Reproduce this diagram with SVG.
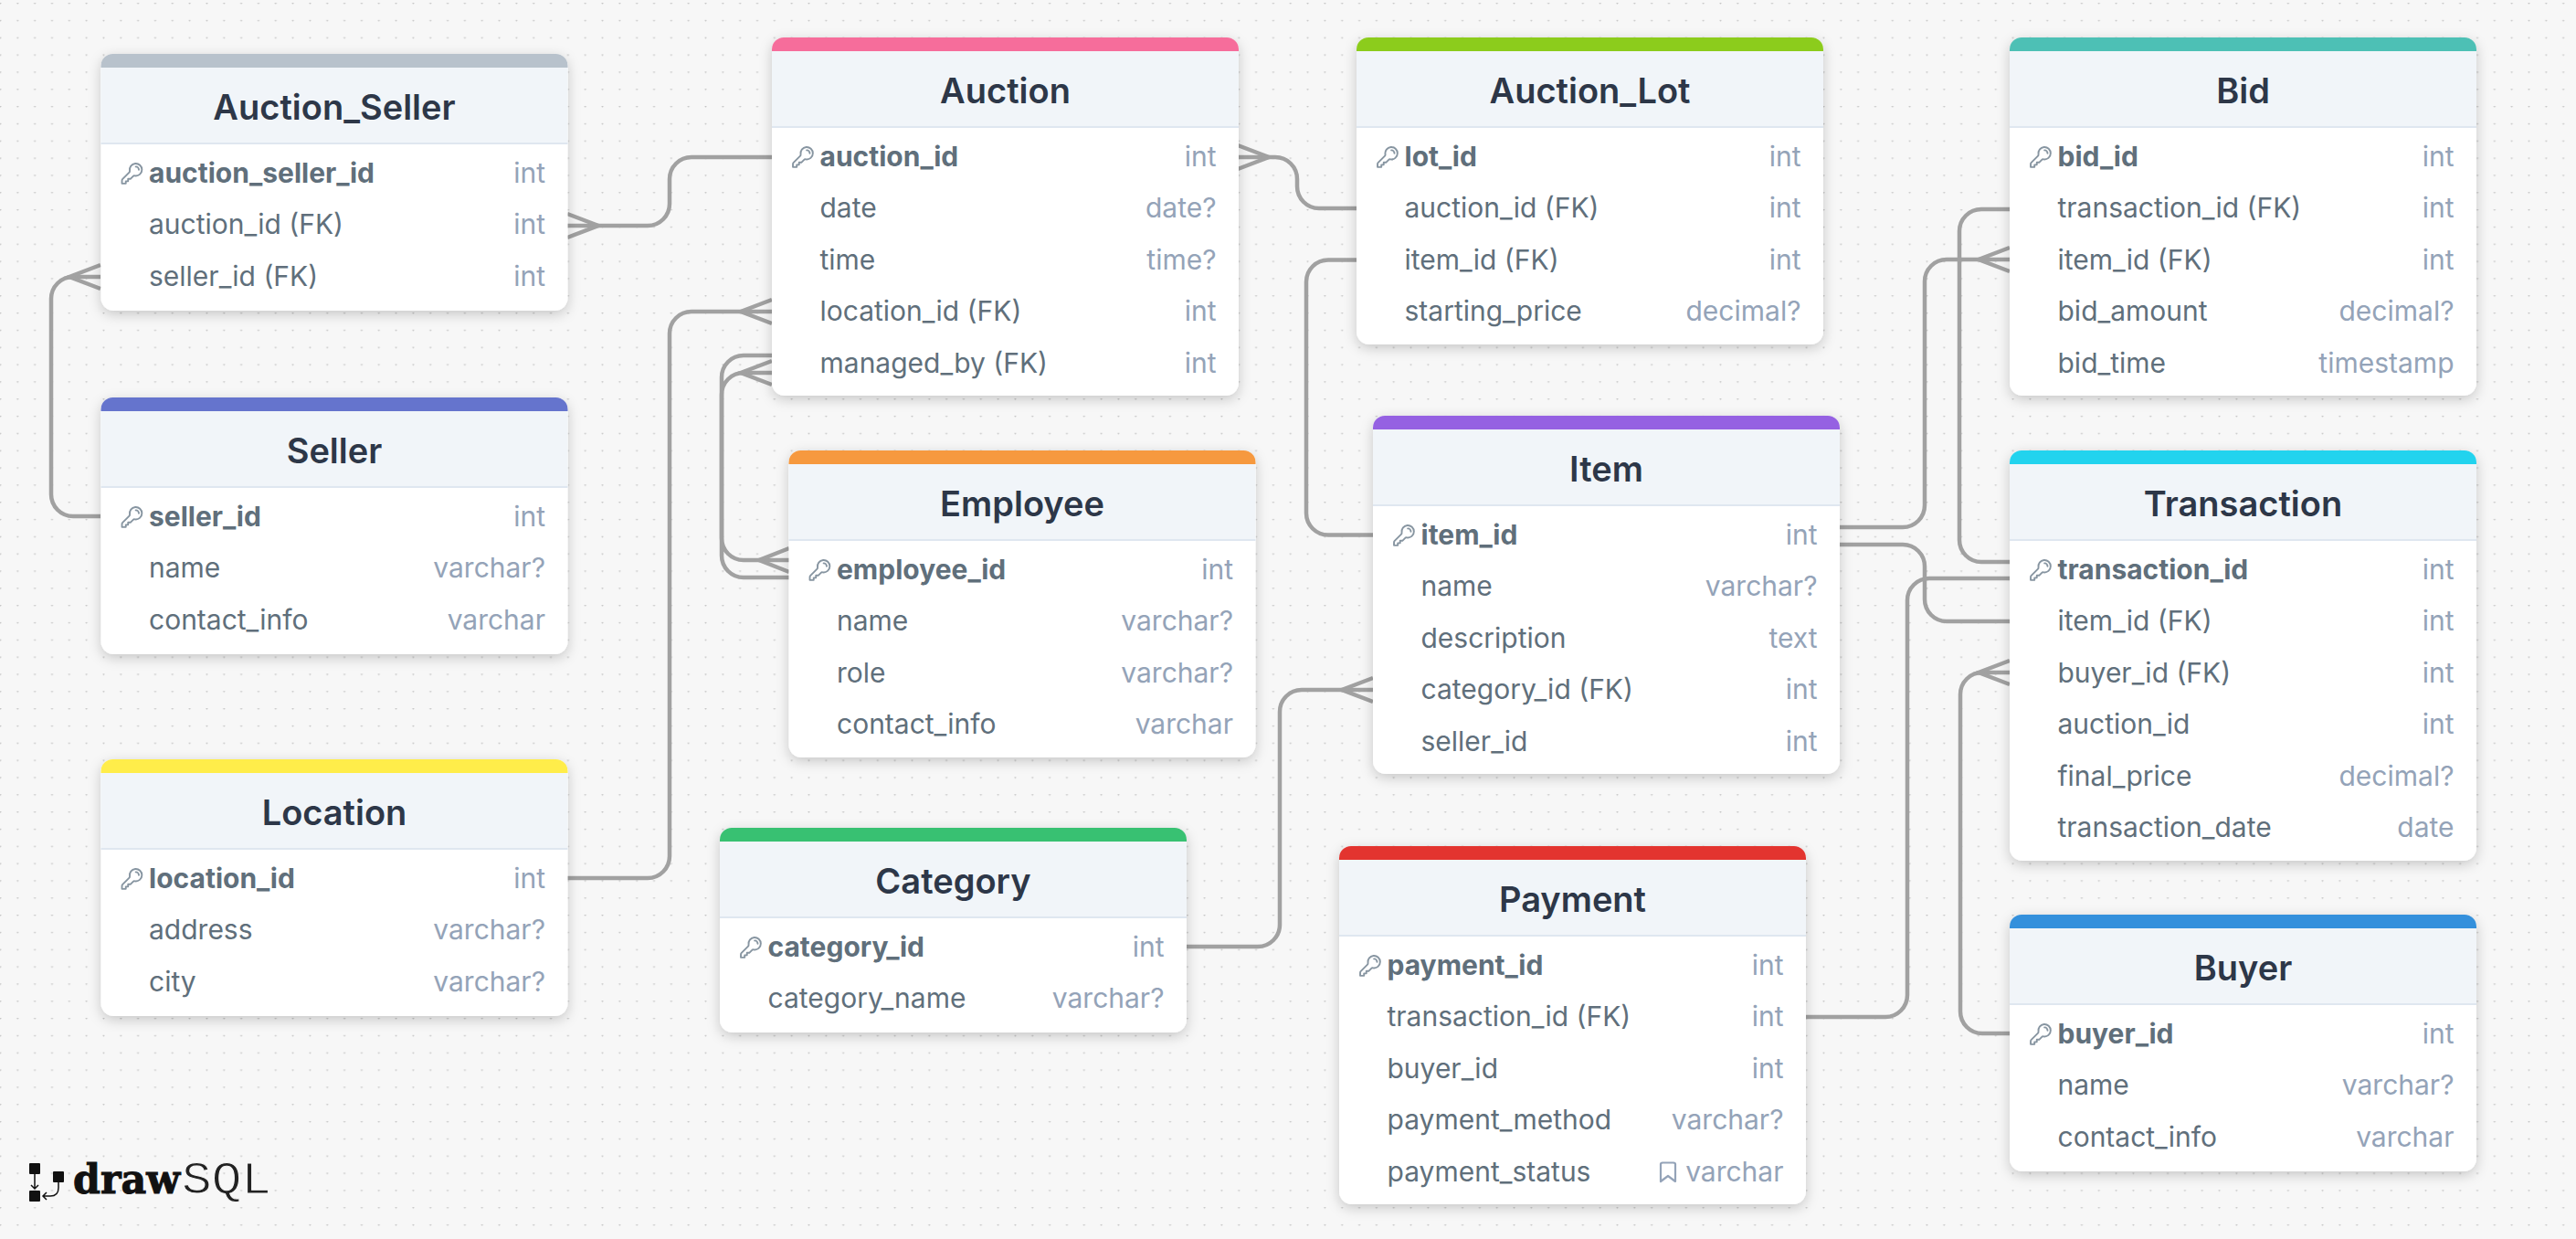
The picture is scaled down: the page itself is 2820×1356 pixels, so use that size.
<svg xmlns="http://www.w3.org/2000/svg" width="2820" height="1356" viewBox="0 0 2820 1356">
<style>
text{font-family:Inter,"Noto Sans",sans-serif}
.ti{font-size:38px;font-weight:600;fill:#2d3748;text-anchor:middle;transform:translateY(.5px)}
.n,.p,.t{font-size:30px;transform:translate(-.5px,-.2px)}
.n{fill:#606f7b}
.p{font-weight:700;fill:#606f7b}
.t{fill:#94a3b8;text-anchor:end}
.body{fill:#fff;filter:url(#sh)}
.hd{fill:#f1f5f9}
.ln{stroke:#dfe7f0;stroke-width:2}
.c{fill:none;stroke:#a1a1a1;stroke-width:4.500}
.ic{fill:none;stroke:#8795a1;stroke-width:1.700;stroke-linejoin:round;stroke-linecap:round}
</style>
<defs>
<pattern id="dots" width="18.83" height="18.83" patternUnits="userSpaceOnUse" y="3">
<circle cx="0.5" cy="0.5" r="1" fill="#c4c4c4"/><circle cx="19.33" cy="0.5" r="1" fill="#c4c4c4"/>
</pattern>
<filter id="sh" x="-10%" y="-10%" width="120%" height="125%"><feDropShadow dx="0" dy="4" stdDeviation="7" flood-color="#000" flood-opacity="0.2"/></filter>
<path id="band" d="M0 15V13A13 13 0 0 1 13 0H498A13 13 0 0 1 511 13V15Z"/>
<path id="key" class="ic" transform="translate(20.5,117.5) scale(1.12)" d="M15.75 5.25a3 3 0 013 3m3 0a6 6 0 01-7.029 5.912c-.563-.097-1.159.026-1.563.43L10.5 17.25H8.25v2.25H6v2.25H2.25v-2.818c0-.597.237-1.17.659-1.591l6.499-6.499c.404-.404.527-1 .43-1.563A6 6 0 1121.75 8.25z"/>
</defs>
<rect width="2820" height="1356" fill="#f7f7f7"/>
<rect width="2820" height="1356" fill="url(#dots)"/>

<g id="connectors">
<path class="c" d="M621 247H709A24 24 0 0 0 733 223V196A24 24 0 0 1 757 172H845"/>
<path class="c" d="M621 234L655 247L621 260"/>
<path class="c" d="M110 303H80A24 24 0 0 0 56 327V541A24 24 0 0 0 80 565H110"/>
<path class="c" d="M110 290L76 303L110 316"/>
<path class="c" d="M621 961H709A24 24 0 0 0 733 937V365A24 24 0 0 1 757 341H845"/>
<path class="c" d="M845 328L811 341L845 354"/>
<path class="c" d="M845 389H814A24 24 0 0 0 790 413V608A24 24 0 0 0 814 632H864"/>
<path class="c" d="M845 408H814A24 24 0 0 0 790 432V589A24 24 0 0 0 814 613H864"/>
<path class="c" d="M845 395L811 408L845 421"/>
<path class="c" d="M864 600L831 613L864 626"/>
<path class="c" d="M1355 172H1396A24 24 0 0 1 1420 196V204A24 24 0 0 0 1444 228H1485"/>
<path class="c" d="M1355 159L1389 172L1355 185"/>
<path class="c" d="M1485 284.500H1454A24 24 0 0 0 1430 308.500V561.500A24 24 0 0 0 1454 585.500H1503"/>
<path class="c" d="M1298 1036H1377A24 24 0 0 0 1401 1012V779A24 24 0 0 1 1425 755H1503"/>
<path class="c" d="M1503 742L1469 755L1503 768"/>
<path class="c" d="M2014 577H2083A24 24 0 0 0 2107 553V308A24 24 0 0 1 2131 284H2200"/>
<path class="c" d="M2200 271L2166 284L2200 297"/>
<path class="c" d="M2200 229H2169A24 24 0 0 0 2145 253V591A24 24 0 0 0 2169 615H2200"/>
<path class="c" d="M2014 596H2083A24 24 0 0 1 2107 620V656A24 24 0 0 0 2131 680H2200"/>
<path class="c" d="M1977 1113H2064A24 24 0 0 0 2088 1089V657A24 24 0 0 1 2112 633H2200"/>
<path class="c" d="M2200 1131H2170A24 24 0 0 1 2146 1107V760A24 24 0 0 1 2170 736H2200"/>
<path class="c" d="M2200 723L2166 736L2200 749"/>
</g>

<g id="auction_seller" transform="translate(110.5,59)">
<rect class="body" width="511" height="281" rx="14"/><rect class="hd" y="14" width="511" height="84"/><use href="#band" fill="#b8c2cc"/><line class="ln" x2="511" y1="98" y2="98"/>
<text class="ti" x="255.500" y="71">Auction_Seller</text>
<use href="#key"/><text class="p" x="53" y="141">auction_seller_id</text><text class="t" x="487" y="141">int</text>
<text class="n" x="53" y="197.500">auction_id (FK)</text><text class="t" x="487" y="197.500">int</text>
<text class="n" x="53" y="254">seller_id (FK)</text><text class="t" x="487" y="254">int</text>
</g>
<g id="seller" transform="translate(110.5,435)">
<rect class="body" width="511" height="281" rx="14"/><rect class="hd" y="14" width="511" height="84"/><use href="#band" fill="#6574cd"/><line class="ln" x2="511" y1="98" y2="98"/>
<text class="ti" x="255.500" y="71">Seller</text>
<use href="#key"/><text class="p" x="53" y="141">seller_id</text><text class="t" x="487" y="141">int</text>
<text class="n" x="53" y="197.500">name</text><text class="t" x="487" y="197.500">varchar?</text>
<text class="n" x="53" y="254">contact_info</text><text class="t" x="487" y="254">varchar</text>
</g>
<g id="location" transform="translate(110.5,831)">
<rect class="body" width="511" height="281" rx="14"/><rect class="hd" y="14" width="511" height="84"/><use href="#band" fill="#ffed4a"/><line class="ln" x2="511" y1="98" y2="98"/>
<text class="ti" x="255.500" y="71">Location</text>
<use href="#key"/><text class="p" x="53" y="141">location_id</text><text class="t" x="487" y="141">int</text>
<text class="n" x="53" y="197.500">address</text><text class="t" x="487" y="197.500">varchar?</text>
<text class="n" x="53" y="254">city</text><text class="t" x="487" y="254">varchar?</text>
</g>
<g id="auction" transform="translate(845,41)">
<rect class="body" width="511" height="392" rx="14"/><rect class="hd" y="14" width="511" height="84"/><use href="#band" fill="#f66d9b"/><line class="ln" x2="511" y1="98" y2="98"/>
<text class="ti" x="255.500" y="71">Auction</text>
<use href="#key"/><text class="p" x="53" y="141">auction_id</text><text class="t" x="487" y="141">int</text>
<text class="n" x="53" y="197.500">date</text><text class="t" x="487" y="197.500">date?</text>
<text class="n" x="53" y="254">time</text><text class="t" x="487" y="254">time?</text>
<text class="n" x="53" y="310.500">location_id (FK)</text><text class="t" x="487" y="310.500">int</text>
<text class="n" x="53" y="367">managed_by (FK)</text><text class="t" x="487" y="367">int</text>
</g>
<g id="employee" transform="translate(863.5,493)">
<rect class="body" width="511" height="336" rx="14"/><rect class="hd" y="14" width="511" height="84"/><use href="#band" fill="#f6993f"/><line class="ln" x2="511" y1="98" y2="98"/>
<text class="ti" x="255.500" y="71">Employee</text>
<use href="#key"/><text class="p" x="53" y="141">employee_id</text><text class="t" x="487" y="141">int</text>
<text class="n" x="53" y="197.500">name</text><text class="t" x="487" y="197.500">varchar?</text>
<text class="n" x="53" y="254">role</text><text class="t" x="487" y="254">varchar?</text>
<text class="n" x="53" y="310.500">contact_info</text><text class="t" x="487" y="310.500">varchar</text>
</g>
<g id="category" transform="translate(788,906)">
<rect class="body" width="511" height="224" rx="14"/><rect class="hd" y="14" width="511" height="84"/><use href="#band" fill="#38c172"/><line class="ln" x2="511" y1="98" y2="98"/>
<text class="ti" x="255.500" y="71">Category</text>
<use href="#key"/><text class="p" x="53" y="141">category_id</text><text class="t" x="487" y="141">int</text>
<text class="n" x="53" y="197.500">category_name</text><text class="t" x="487" y="197.500">varchar?</text>
</g>
<g id="auction_lot" transform="translate(1485,41)">
<rect class="body" width="511" height="336" rx="14"/><rect class="hd" y="14" width="511" height="84"/><use href="#band" fill="#8ccc1c"/><line class="ln" x2="511" y1="98" y2="98"/>
<text class="ti" x="255.500" y="71">Auction_Lot</text>
<use href="#key"/><text class="p" x="53" y="141">lot_id</text><text class="t" x="487" y="141">int</text>
<text class="n" x="53" y="197.500">auction_id (FK)</text><text class="t" x="487" y="197.500">int</text>
<text class="n" x="53" y="254">item_id (FK)</text><text class="t" x="487" y="254">int</text>
<text class="n" x="53" y="310.500">starting_price</text><text class="t" x="487" y="310.500">decimal?</text>
</g>
<g id="item" transform="translate(1503,455)">
<rect class="body" width="511" height="392" rx="14"/><rect class="hd" y="14" width="511" height="84"/><use href="#band" fill="#9561e2"/><line class="ln" x2="511" y1="98" y2="98"/>
<text class="ti" x="255.500" y="71">Item</text>
<use href="#key"/><text class="p" x="53" y="141">item_id</text><text class="t" x="487" y="141">int</text>
<text class="n" x="53" y="197.500">name</text><text class="t" x="487" y="197.500">varchar?</text>
<text class="n" x="53" y="254">description</text><text class="t" x="487" y="254">text</text>
<text class="n" x="53" y="310.500">category_id (FK)</text><text class="t" x="487" y="310.500">int</text>
<text class="n" x="53" y="367">seller_id</text><text class="t" x="487" y="367">int</text>
</g>
<g id="payment" transform="translate(1466,926)">
<rect class="body" width="511" height="392" rx="14"/><rect class="hd" y="14" width="511" height="84"/><use href="#band" fill="#e3342f"/><line class="ln" x2="511" y1="98" y2="98"/>
<text class="ti" x="255.500" y="71">Payment</text>
<use href="#key"/><text class="p" x="53" y="141">payment_id</text><text class="t" x="487" y="141">int</text>
<text class="n" x="53" y="197.500">transaction_id (FK)</text><text class="t" x="487" y="197.500">int</text>
<text class="n" x="53" y="254">buyer_id</text><text class="t" x="487" y="254">int</text>
<text class="n" x="53" y="310.500">payment_method</text><text class="t" x="487" y="310.500">varchar?</text>
<text class="n" x="53" y="367">payment_status</text><text class="t" x="487" y="367">varchar</text>
<path class="ic" style="stroke:#94a3b8;stroke-width:2.200" d="M352 348Q352 346.500 354 346.500H366Q368 346.500 368 348V367L360 361L352 367Z"/>
</g>
<g id="bid" transform="translate(2200,41)">
<rect class="body" width="511" height="392" rx="14"/><rect class="hd" y="14" width="511" height="84"/><use href="#band" fill="#4dc0b5"/><line class="ln" x2="511" y1="98" y2="98"/>
<text class="ti" x="255.500" y="71">Bid</text>
<use href="#key"/><text class="p" x="53" y="141">bid_id</text><text class="t" x="487" y="141">int</text>
<text class="n" x="53" y="197.500">transaction_id (FK)</text><text class="t" x="487" y="197.500">int</text>
<text class="n" x="53" y="254">item_id (FK)</text><text class="t" x="487" y="254">int</text>
<text class="n" x="53" y="310.500">bid_amount</text><text class="t" x="487" y="310.500">decimal?</text>
<text class="n" x="53" y="367">bid_time</text><text class="t" x="487" y="367">timestamp</text>
</g>
<g id="transaction" transform="translate(2200,493)">
<rect class="body" width="511" height="449" rx="14"/><rect class="hd" y="14" width="511" height="84"/><use href="#band" fill="#22d3ee"/><line class="ln" x2="511" y1="98" y2="98"/>
<text class="ti" x="255.500" y="71">Transaction</text>
<use href="#key"/><text class="p" x="53" y="141">transaction_id</text><text class="t" x="487" y="141">int</text>
<text class="n" x="53" y="197.500">item_id (FK)</text><text class="t" x="487" y="197.500">int</text>
<text class="n" x="53" y="254">buyer_id (FK)</text><text class="t" x="487" y="254">int</text>
<text class="n" x="53" y="310.500">auction_id</text><text class="t" x="487" y="310.500">int</text>
<text class="n" x="53" y="367">final_price</text><text class="t" x="487" y="367">decimal?</text>
<text class="n" x="53" y="423.500">transaction_date</text><text class="t" x="487" y="423.500">date</text>
</g>
<g id="buyer" transform="translate(2200,1001)">
<rect class="body" width="511" height="281" rx="14"/><rect class="hd" y="14" width="511" height="84"/><use href="#band" fill="#3490dc"/><line class="ln" x2="511" y1="98" y2="98"/>
<text class="ti" x="255.500" y="71">Buyer</text>
<use href="#key"/><text class="p" x="53" y="141">buyer_id</text><text class="t" x="487" y="141">int</text>
<text class="n" x="53" y="197.500">name</text><text class="t" x="487" y="197.500">varchar?</text>
<text class="n" x="53" y="254">contact_info</text><text class="t" x="487" y="254">varchar</text>
</g>

<g id="logo">
<rect x="32" y="1273" width="12" height="12" rx="1" fill="#111"/>
<rect x="32" y="1303" width="12" height="12" rx="1" fill="#111"/>
<rect x="58" y="1282" width="12" height="12" rx="1" fill="#111"/>
<path d="M38 1285V1301M34 1297L38 1301L42 1297M64 1294V1300Q64 1309 55 1309H47M51 1305L47 1309L51 1313" fill="none" stroke="#111" stroke-width="1.500"/>
<text x="80" y="1306" style="font-family:'DejaVu Serif',serif;font-weight:700;font-size:44px;stroke:#111;stroke-width:1" fill="#111" textLength="117" lengthAdjust="spacingAndGlyphs">draw</text>
<text x="199" y="1306" style="font-family:'Liberation Mono',monospace;font-size:50px;stroke:#f7f7f7;stroke-width:1;paint-order:fill" fill="#222" textLength="98" lengthAdjust="spacingAndGlyphs">SQL</text>
</g>
</svg>
